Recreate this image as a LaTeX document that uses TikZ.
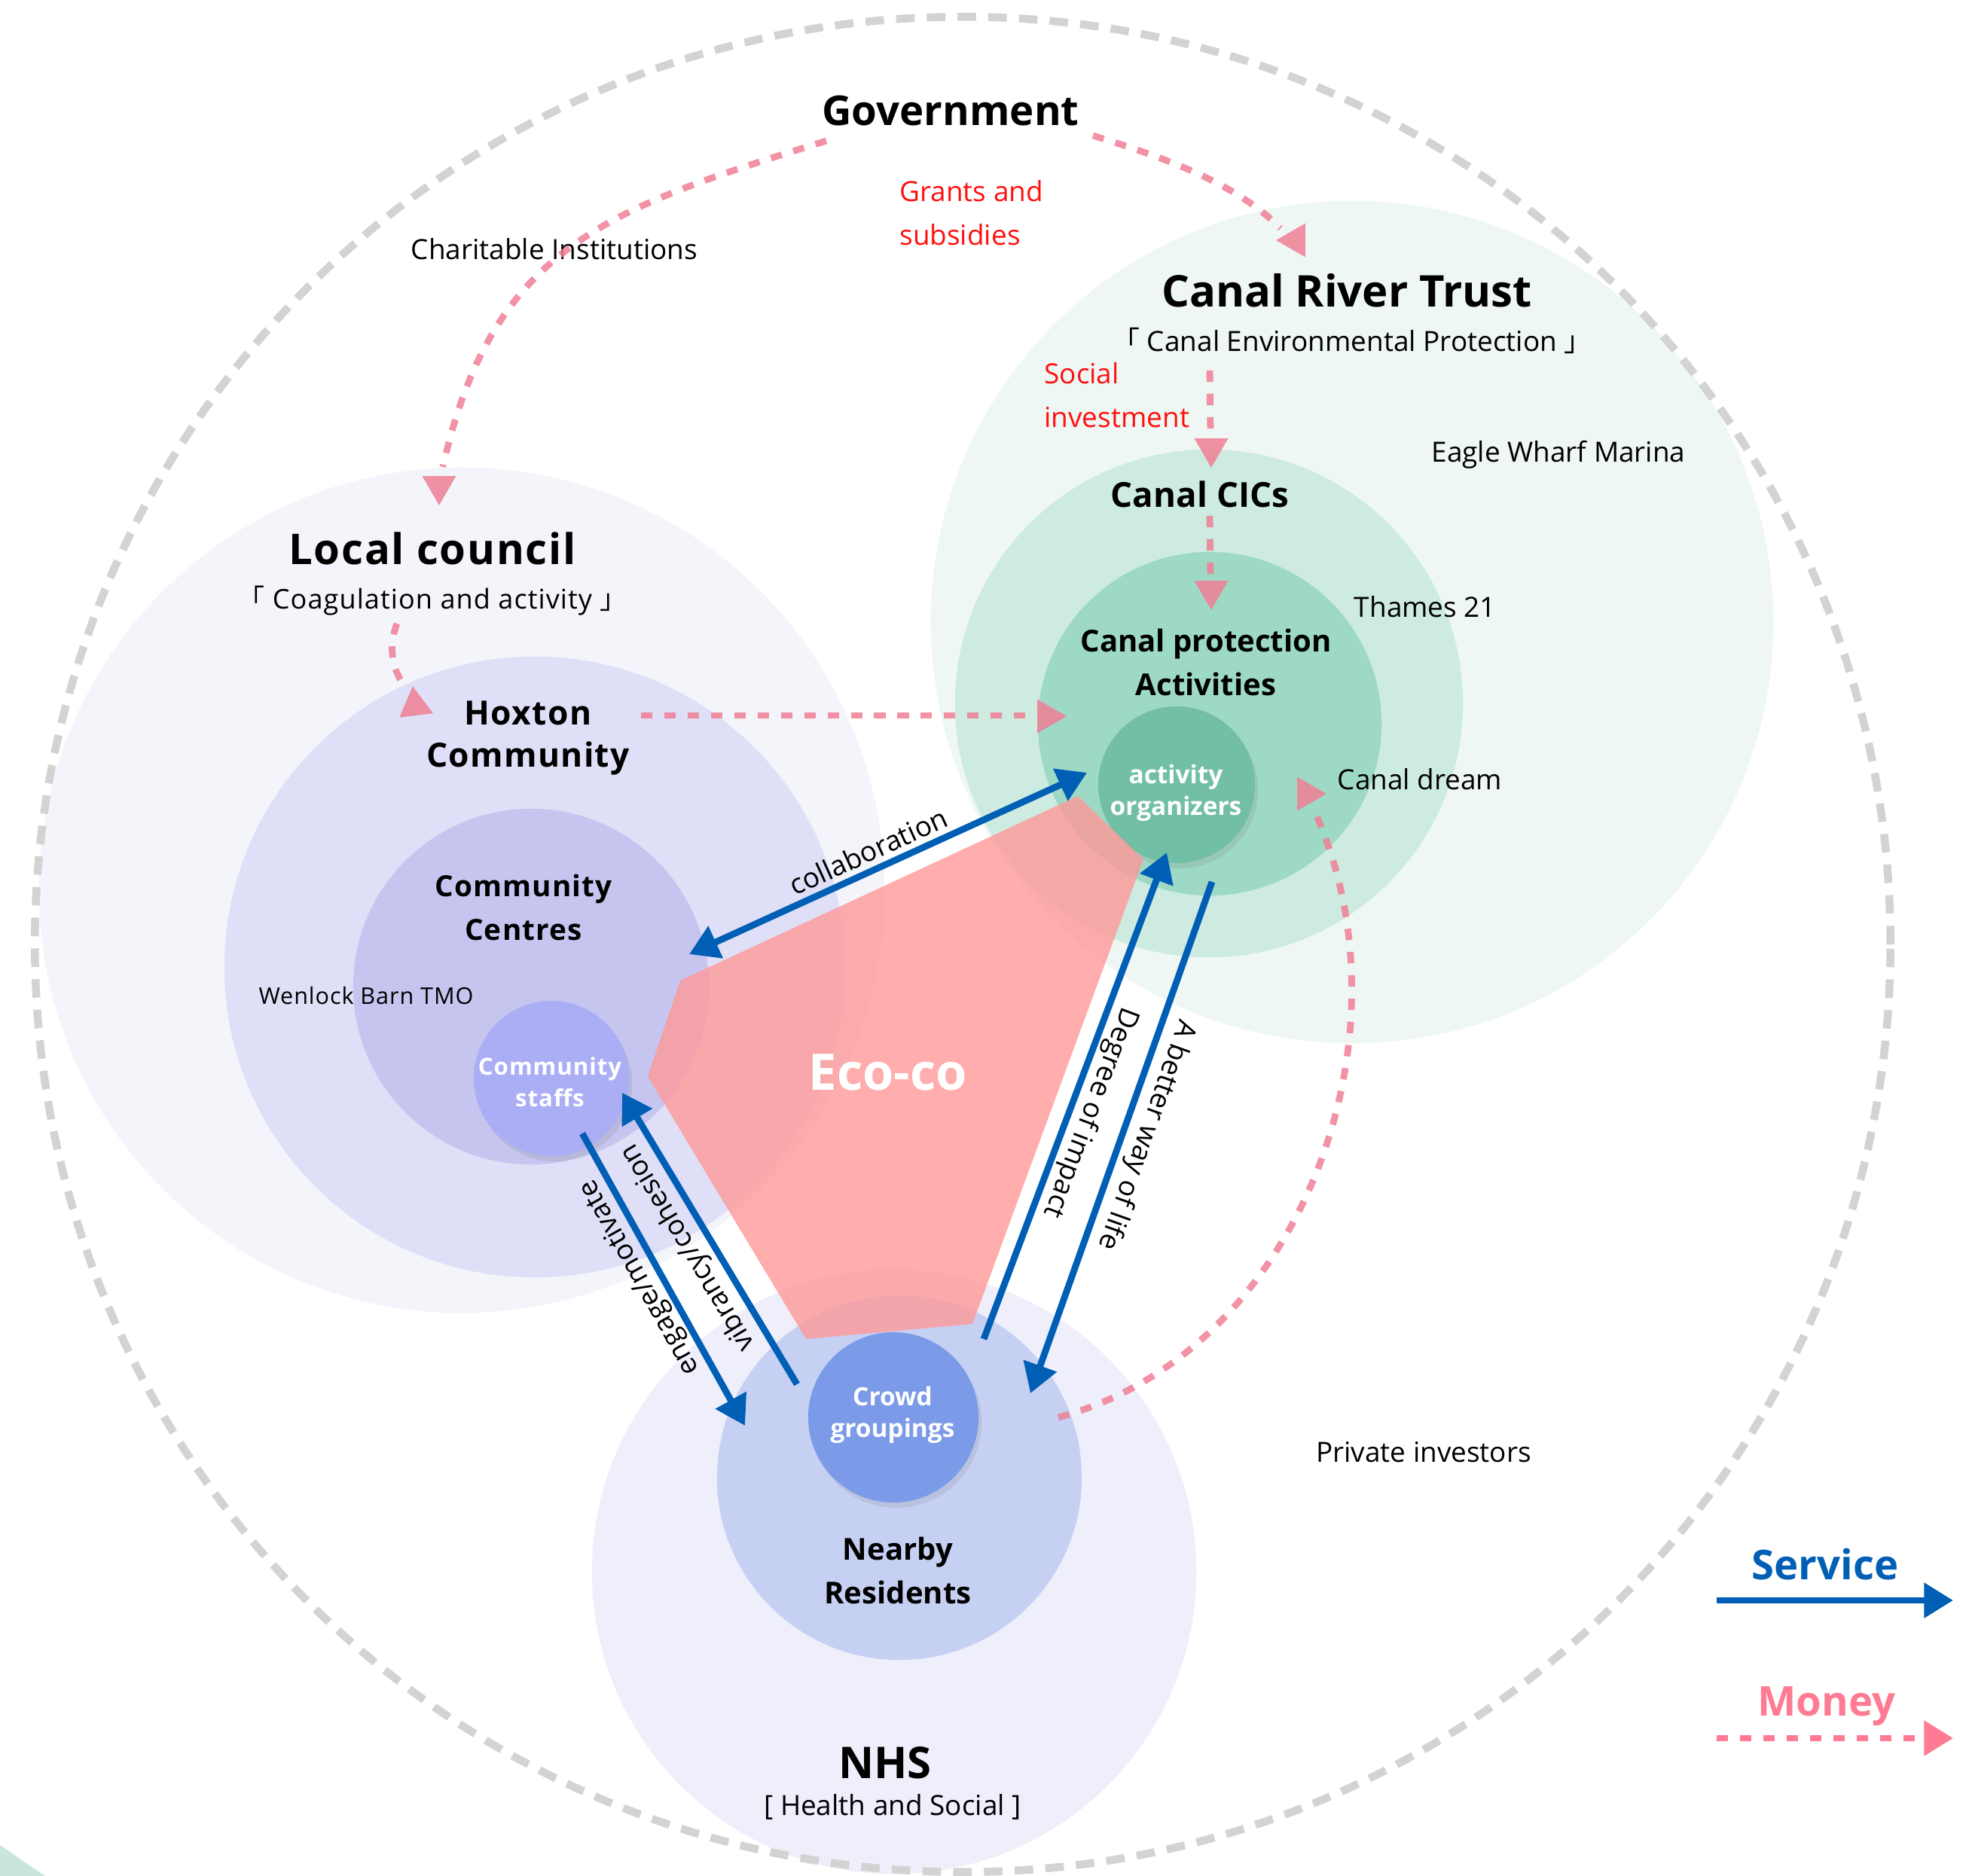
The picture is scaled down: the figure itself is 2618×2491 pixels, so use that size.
\documentclass[tikz,border=0pt]{standalone}
\usepackage{fontspec}
\setmainfont{Open Sans}
\newfontfamily\spaced{Open Sans}[LetterSpace=3]
\newfontfamily\cjk{Noto Sans CJK SC}
\usetikzlibrary{arrows.meta,shadows}

\definecolor{serviceblue}{HTML}{005FB5}
\definecolor{moneypink}{HTML}{F07F95}
\definecolor{legendpink}{HTML}{FF7A93}
\definecolor{ringgray}{HTML}{D3D3D3}
\definecolor{fundred}{HTML}{FF1010}
\definecolor{councilbg}{HTML}{F4F5FB}
\definecolor{trustbg}{HTML}{EEF7F3}
\definecolor{nhsbg}{HTML}{EEEFFB}
\definecolor{hoxtonbg}{HTML}{DFDFF7}
\definecolor{centrebg}{HTML}{C5C5F0}
\definecolor{staffbg}{HTML}{ABAEF5}
\definecolor{cicbg}{HTML}{CDEBE0}
\definecolor{protectbg}{HTML}{9DD9C5}
\definecolor{organizerbg}{HTML}{73BFA5}
\definecolor{nearbybg}{HTML}{C5D0F3}
\definecolor{crowdbg}{HTML}{7B9AE8}
\definecolor{cornergreen}{HTML}{C8E6DC}
\definecolor{ecopink}{HTML}{FF9999}

% money arrow head: centre, angle of one corner
\newcommand{\mhead}[2]{\fill[moneyhead] (#1) ++(#2:26) -- ++(#2+150:45) -- ++(#2+270:45) -- cycle;}

\begin{document}
\begin{tikzpicture}[x=0.01cm, y=-0.01cm, >={Triangle[length=11pt,width=12.8pt]},
  disc/.style={circle, inner sep=0pt, draw=none},
  spot/.style={disc, drop shadow={opacity=0.18, shadow xshift=0.04cm, shadow yshift=-0.07cm}},
  spottext/.style={text=white, align=center, font=\bfseries\fontsize{9.5}{12}\selectfont},
  title/.style={font=\bfseries\fontsize{16.5}{20}\selectfont},
  head/.style={align=center, font=\bfseries\fontsize{11.4}{16.5}\selectfont},
  tag/.style={font=\fontsize{10.5}{13}\selectfont},
  fund/.style={anchor=west, align=left, text=fundred, font=\fontsize{10.5}{16.5}\selectfont},
  service/.style={draw=serviceblue, line width=2.5pt},
  money/.style={draw=moneypink, draw opacity=0.85, line width=2.5pt, dash pattern=on 4.3pt off 4.5pt},
  moneyhead/.style={fill=moneypink, fill opacity=0.85},
  edgelabel/.style={tag, inner sep=2pt, sloped, allow upside down, above},
  eco/.style={fill=ecopink, fill opacity=0.8}]

  \useasboundingbox (0,0) rectangle (2618,2491);
  \fill[cornergreen] (0,2450) -- (60,2491) -- (0,2491) -- cycle;

  % circles
  \node[disc, fill=councilbg, minimum size=11.22cm] (council) at (613,1182) {};
  \node[disc, fill=trustbg, minimum size=11.18cm] (trust) at (1795,826) {};
  \node[disc, fill=nhsbg, minimum size=8.02cm] (nhs) at (1187,2087) {};
  \node[disc, fill=hoxtonbg, minimum size=8.24cm] (hoxton) at (710,1284) {};
  \node[disc, fill=centrebg, minimum size=4.72cm] (centres) at (705,1310) {};
  \node[disc, fill=cicbg, minimum size=6.74cm] (cics) at (1605,934) {};
  \node[disc, fill=protectbg, minimum size=4.56cm] (protect) at (1606,961) {};
  \node[disc, fill=nearbybg, minimum size=4.84cm] (nearby) at (1194,1962) {};
  \node[disc, draw=ringgray, line width=3pt, dash pattern=on 7pt off 4.6pt,
    minimum size=24.62cm] (ring) at (1278,1254) {};

  \node[spot, fill=staffbg, minimum size=2.06cm] (staffs) at (732,1432) {};
  \node[spot, fill=organizerbg, minimum size=2.08cm] (organizers) at (1562,1042) {};
  \node[spot, fill=crowdbg, minimum size=2.26cm] (crowd) at (1186,1882) {};

  \fill[eco] (903,1302) -- (860,1429) -- (1070,1778) -- (1291,1758) -- (1518,1141) -- (1431,1057) -- cycle;
  \node[font=\bfseries\fontsize{19}{22}\selectfont, text=white] (ecoco) at (1179,1424) {Eco-co};

  \node[spottext, font=\spaced\bfseries\fontsize{8.9}{12}\selectfont] (staffstext) at (730,1437) {Community\\staffs};
  \node[spottext] (organizerstext) at (1561,1053) {activity\\organizers};
  \node[spottext] (crowdtext) at (1185,1879) {Crowd\\groupings};

  % labels
  \node[title, font=\bfseries\fontsize{15.5}{20}\selectfont] (gov) at (1262,147) {Government};
  \node[fund] (grants) at (1182,283) {Grants and\\subsidies};
  \node[tag] (charity) at (736,331) {Charitable Institutions};
  \node[title] (trustname) at (1788,386) {Canal River Trust};
  \node[tag] (trustsub) at (1795,452) {{\cjk 「} Canal Environmental Protection {\cjk 」}};
  \node[fund] (social) at (1374,525) {Social\\investment};
  \node[tag] (eagle) at (2069,604) {Eagle Wharf Marina};
  \node[head, font=\bfseries\fontsize{13}{16.5}\selectfont] (cicsname) at (1593,656) {Canal CICs};
  \node[tag] (thames) at (1892,806) {Thames 21};
  \node[head] (protname) at (1601,879) {Canal protection\\Activities};
  \node[tag] (dream) at (1885,1035) {Canal dream};
  \node[font=\spaced\bfseries\fontsize{16}{20}\selectfont] (councilname) at (574,728) {Local council};
  \node[font=\spaced\fontsize{10.25}{13}\selectfont] (councilsub) at (574,798) {{\cjk 「} Coagulation and activity {\cjk 」}};
  \node[head, font=\spaced\bfseries\fontsize{12.6}{16}\selectfont] (hoxtonname) at (701,980) {Hoxton\\Community};
  \node[head, font=\spaced\bfseries\fontsize{11}{16.5}\selectfont] (centresname) at (695,1205) {Community\\Centres};
  \node[font=\spaced\fontsize{8.7}{12}\selectfont] (wenlock) at (486,1322) {Wenlock Barn TMO};
  \node[head] (nearbyname) at (1192,2085) {Nearby\\Residents};
  \node[title] (nhsname) at (1175,2341) {NHS};
  \node[tag] (nhssub) at (1185,2399) {[ Health and Social ]};
  \node[tag] (private) at (1890,1928) {Private investors};

  % service
  \coordinate (collL) at (915,1267);
  \coordinate (collR) at (1443,1026);
  \coordinate (engA) at (773,1505);
  \coordinate (engB) at (989,1893);
  \coordinate (vibA) at (1058,1838);
  \coordinate (vibB) at (826,1451);
  \coordinate (degA) at (1306,1778);
  \coordinate (degB) at (1549,1132);
  \coordinate (betA) at (1609,1171);
  \coordinate (betB) at (1368,1850);

  \draw[service, <->] (collL) -- node[edgelabel, pos=0.47] {collaboration} (collR);
  \draw[service, ->] (engA) -- (engB);
  \path (engB) -- node[edgelabel, pos=0.54] {engage/motivate} (engA);
  \draw[service, ->] (vibA) -- node[edgelabel, pos=0.51] {vibrancy/cohesion} (vibB);
  \draw[service, ->] (degA) -- (degB);
  \path (degB) -- node[edgelabel, pos=0.52] {Degree of impact} (degA);
  \draw[service, ->] (betA) -- node[edgelabel, pos=0.48] {A better way of life} (betB);

  % money
  \coordinate (govL) at (1097,187);
  \coordinate (govR) at (1451,180);
  \coordinate (councilIn) at (588,620);
  \coordinate (councilHead) at (583,645);
  \coordinate (trustIn) at (1700,303);
  \coordinate (trustHead) at (1720,319);
  \coordinate (trustOut) at (1606,492);
  \coordinate (cicsIn) at (1607,575);
  \coordinate (cicsHead) at (1608,595);
  \coordinate (cicsOut) at (1606,685);
  \coordinate (protIn) at (1607,765);
  \coordinate (protHead) at (1608,784);
  \coordinate (councilOut) at (527,828);
  \coordinate (hoxtonIn) at (540,915);
  \coordinate (hoxtonHead) at (551,937);
  \coordinate (hoxtonOut) at (851,950);
  \coordinate (protLeft) at (1377,950);
  \coordinate (protSide) at (1390,951);
  \coordinate (nearbyOut) at (1405,1882);
  \coordinate (dreamIn) at (1746,1079);
  \coordinate (dreamHead) at (1735,1054);

  \draw[money] (govL) .. controls (811,276) and (654,325) .. (councilIn);
  \mhead{councilHead}{90}
  \draw[money] (govR) .. controls (1537,207) and (1636,239) .. (trustIn);
  \mhead{trustHead}{180}
  \draw[money] (trustOut) -- (cicsIn);
  \mhead{cicsHead}{90}
  \draw[money] (cicsOut) -- (protIn);
  \mhead{protHead}{90}
  \draw[money] (councilOut) .. controls (515,860) and (520,890) .. (hoxtonIn);
  \mhead{hoxtonHead}{23}
  \draw[money] (hoxtonOut) -- (protLeft);
  \mhead{protSide}{0}
  \draw[money] (nearbyOut) .. controls (1724,1797) and (1881,1380) .. (dreamIn);
  \mhead{dreamHead}{0}

  % legend
  \node[font=\bfseries\fontsize{15.5}{18}\selectfont, text=serviceblue] (servicekey) at (2423,2077) {Service};
  \coordinate (serviceA) at (2279,2125);
  \coordinate (serviceB) at (2593,2125);
  \draw[service, ->] (serviceA) -- (serviceB);
  \node[font=\bfseries\fontsize{15.5}{18}\selectfont, text=legendpink] (moneykey) at (2425,2266) {Money};
  \coordinate (moneyA) at (2279,2308);
  \coordinate (moneyB) at (2593,2308);
  \draw[money, draw=legendpink, draw opacity=1, ->] (moneyA) -- (moneyB);
\end{tikzpicture}
\end{document}
